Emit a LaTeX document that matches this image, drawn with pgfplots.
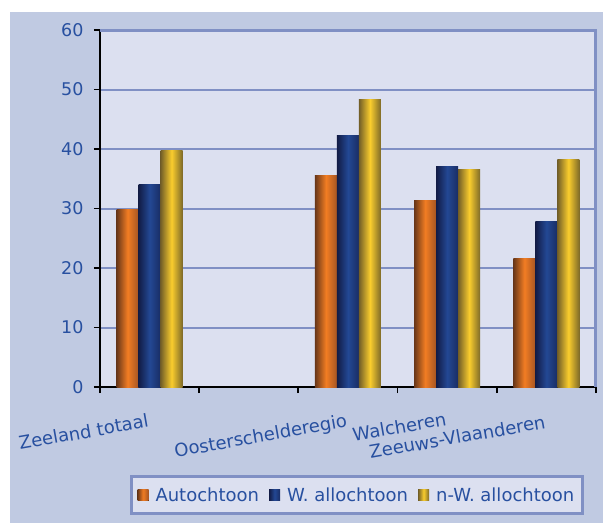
\documentclass[border=0pt]{standalone}
\usepackage{pgfplots}
\pgfplotsset{compat=1.18}
\usepackage{fontspec}
\setmainfont{DejaVu Sans}
\definecolor{outerbg}{RGB}{192,202,226}
\definecolor{plotbg}{RGB}{220,224,240}
\definecolor{gridblue}{RGB}{128,144,196}
\definecolor{textblue}{RGB}{40,80,160}
\definecolor{orL}{RGB}{105,55,25}
\definecolor{orM}{RGB}{242,125,35}
\definecolor{orR}{RGB}{165,85,35}
\definecolor{blL}{RGB}{18,28,70}
\definecolor{blM}{RGB}{35,72,148}
\definecolor{blR}{RGB}{25,45,100}
\definecolor{yeL}{RGB}{115,95,40}
\definecolor{yeM}{RGB}{250,205,45}
\definecolor{yeR}{RGB}{125,105,40}
\pgfplotsset{
  orfill/.style={draw=none, left color=orL, right color=orR, middle color=orM},
  blfill/.style={draw=none, left color=blL, right color=blR, middle color=blM},
  yefill/.style={draw=none, left color=yeL, right color=yeR, middle color=yeM},
  orbar/.style={ybar, bar width=22pt, bar shift=-22pt, orfill, forget plot},
  blbar/.style={ybar, bar width=22pt, bar shift=0pt, blfill, forget plot},
  yebar/.style={ybar, bar width=22pt, bar shift=22pt, yefill, forget plot},
}
\begin{document}
\begin{tikzpicture}
\useasboundingbox (-100pt,-136pt) rectangle (503pt,387pt);
\fill[outerbg] (-90pt,-136pt) rectangle (503pt,375pt);
\begin{axis}[
  at={(0pt,0pt)}, anchor=south west,
  scale only axis, width=496pt, height=357pt,
  xmin=-0.5, xmax=4.5, ymin=0, ymax=60,
  axis background/.style={fill=plotbg},
  axis x line*=bottom, axis y line*=left,
  axis line style={black, line width=2pt, -},
  xtick={-0.5,0.5,1.5,2.5,3.5,4.5}, xticklabels={,,,,,},
  ytick={0,10,20,30,40,50,60},
  tick align=outside, major tick length=6pt,
  tick style={black, line width=1.8pt},
  ymajorgrids, grid style={gridblue, line width=2pt},
  /pgf/number format/assume math mode=true,
  yticklabel style={text=textblue, font=\fontsize{17.5}{20}\selectfont, xshift=-7pt},
  clip=false,
  legend columns=3,
  legend style={at={(axis description cs:0.0605,-0.2465)}, anchor=north west,
    draw=gridblue, line width=3pt, fill=plotbg, text=textblue,
    font=\fontsize{18}{21}\selectfont, inner xsep=6pt, inner ysep=9pt,
    /tikz/every odd column/.append style={column sep=5pt},
    /tikz/every even column/.append style={column sep=8pt}},
  legend image code/.code={\fill[#1,draw=none] (0pt,-5.5pt) rectangle (11pt,5.5pt);},
]
\draw[gridblue, line width=3pt] (rel axis cs:0,1) -- (rel axis cs:1,1) -- (rel axis cs:1,0);
% Autochtoon
\addplot[orbar] coordinates {(0,29.8)};
\addplot[orbar] coordinates {(2,35.5)};
\addplot[orbar] coordinates {(3,31.4)};
\addplot[orbar] coordinates {(4,21.6)};
% W. allochtoon
\addplot[blbar] coordinates {(0,34.0)};
\addplot[blbar] coordinates {(2,42.2)};
\addplot[blbar] coordinates {(3,37.0)};
\addplot[blbar] coordinates {(4,27.8)};
% n-W. allochtoon
\addplot[yebar] coordinates {(0,39.7)};
\addplot[yebar] coordinates {(2,48.4)};
\addplot[yebar] coordinates {(3,36.6)};
\addplot[yebar] coordinates {(4,38.3)};
\addlegendimage{orfill}\addlegendentry{Autochtoon}
\addlegendimage{blfill}\addlegendentry{W. allochtoon}
\addlegendimage{yefill}\addlegendentry{n-W. allochtoon}
\begin{scope}[every node/.style={text=textblue, font=\fontsize{18}{21}\selectfont, anchor=base east, rotate=10, inner sep=0pt}]
\node at ([yshift=-40pt]axis cs:0,0) {Zeeland totaal};
\node at ([yshift=-40pt]axis cs:2,0) {Oosterschelderegio};
\node at ([yshift=-38pt]axis cs:3,0) {Walcheren};
\node at ([yshift=-41pt]axis cs:4,0) {Zeeuws-Vlaanderen};
\end{scope}
\end{axis}
\end{tikzpicture}
\end{document}
